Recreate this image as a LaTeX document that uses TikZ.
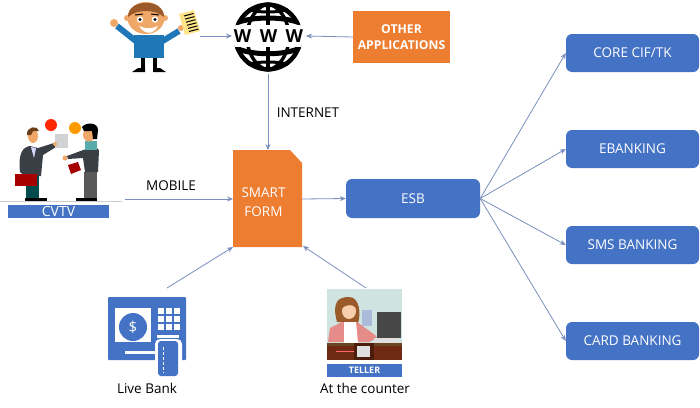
\documentclass[tikz,border=0pt]{standalone}
\usepackage{fontspec}
\setmainfont{Open Sans}
\usetikzlibrary{arrows.meta,calc}
\definecolor{bluebox}{HTML}{4472C4}
\definecolor{orangebox}{HTML}{ED7D31}
\definecolor{linkc}{HTML}{7A8FBE}
\definecolor{skin}{HTML}{F0A868}
\definecolor{shirt}{HTML}{1F77B8}
\definecolor{hairc}{HTML}{9A5A2A}
\definecolor{darksuit}{HTML}{3A3F45}
\definecolor{tellerbg}{HTML}{CFE4E0}
\definecolor{desk}{HTML}{6E2A12}
\definecolor{jacket}{HTML}{E58C88}
\tikzset{
  x=1pt,y=-1pt,
  bluerect/.style={draw=none,fill=bluebox,rounded corners=6pt,text=white,minimum width=133pt,minimum height=38pt,inner sep=0pt,font=\fontsize{13.5}{16}\selectfont},
  orangetext/.style={text=white,align=center,inner sep=0pt},
  plainlabel/.style={text=black,font=\fontsize{13.5}{16}\selectfont,inner sep=0pt},
  link/.style={draw=linkc,line width=0.8pt,-{Stealth[length=6pt,width=5pt]}},
  anchorpt/.style={inner sep=0pt,minimum size=0pt,outer sep=0pt},
  gridline/.style={black,line width=3.4pt},
}
\begin{document}
\begin{tikzpicture}
\useasboundingbox (0,0) rectangle (700,407);
\fill[white] (0,0) rectangle (700,407);

% right boxes
\node[bluerect] (core) at (632.5,53) {CORE CIF/TK};
\node[bluerect] (ebank) at (632.5,149) {EBANKING};
\node[bluerect] (sms) at (632.5,245) {SMS BANKING};
\node[bluerect] (card) at (632.5,341) {CARD BANKING};
\node[bluerect,minimum width=134pt,minimum height=39pt] (esb) at (413,198.5) {ESB};

% smart form
\fill[orangebox] (233,150) -- (290,150) -- (302,163) -- (302,247) -- (233,247) -- cycle;
\node[orangetext,font=\fontsize{13.5}{18.5}\selectfont] (form) at (263.5,202) {SMART\\FORM};
\coordinate (formL) at (233,199);
\coordinate (formR) at (302,199);
\coordinate (formT) at (268,150);
\coordinate (formBL) at (233,247);
\coordinate (formBR) at (303,246);

% other applications
\node[fill=orangebox,minimum width=97pt,minimum height=52pt,inner sep=0pt,orangetext,font=\bfseries\fontsize{12.2}{16}\selectfont] (other) at (401.5,37) {OTHER\\APPLICATIONS};

% globe
\begin{scope}
  \clip (268,37) circle (34.5);
  \fill[white] (268,37) circle (34.5);
  \draw[gridline] (268,0) -- (268,74);
  \draw[gridline] (268,3) .. controls (240,14) and (240,60) .. (268,71);
  \draw[gridline] (268,3) .. controls (296,14) and (296,60) .. (268,71);
  \draw[black,line width=5pt] (234,24) .. controls (250,16) and (286,16) .. (302,24);
  \draw[black,line width=5pt] (234,47) .. controls (250,56) and (286,56) .. (302,47);
  \draw[black,line width=3pt] (245,9) .. controls (258,13) and (278,13) .. (291,9);
  \draw[black,line width=3pt] (245,65) .. controls (258,61) and (278,61) .. (291,65);
  \fill[white] (230,24.5) rectangle (306,47);
\end{scope}
\begin{scope}
  \clip (230,0) rectangle (306,23.5) (230,47.5) rectangle (306,74);
  \draw[black,line width=4.5pt] (268,37) circle (32.3);
\end{scope}
\node[anchorpt,font=\bfseries\fontsize{18}{18}\selectfont] (www) at (268.5,36) {W\hspace{8.5pt}W\hspace{8.5pt}W};
\coordinate (wwwL) at (232,36);
\coordinate (wwwR) at (306,36);
\coordinate (wwwB) at (268,74);

% person
\fill[black] (141,58) rectangle (145,72);
\fill[black] (153,58) rectangle (157,72);
\fill[black] (132,72) -- (138,68) -- (145,68) -- (145,72) -- cycle;
\fill[black] (166,72) -- (160,68) -- (153,68) -- (153,72) -- cycle;
\draw[shirt,line width=6pt] (137,42) -- (117,26);
\draw[shirt,line width=6pt] (161,42) -- (179,31);
\fill[shirt] (134,35) rectangle (164,58);
\fill[skin] (114,23) circle (4);
\fill[skin] (181,28) circle (3);
\fill[skin] (127,18) circle (3);
\fill[skin] (165,18) circle (3);
\fill[skin] (146,18) ellipse (18.5 and 16);
\fill[hairc] (128,17) .. controls (128,-2) and (164,-2) .. (164,17) .. controls (155,9) and (137,9) .. (128,17) -- cycle;
\fill[white] (139,26) .. controls (145,35) and (153,35) .. (158,26) .. controls (152,29) and (145,29) .. (139,26) -- cycle;
\fill[white] (140,19.5) circle (3.2);
\fill[white] (155,19.5) circle (3.2);
\fill[black] (140,19.5) circle (1.7);
\fill[black] (155,19.5) circle (1.7);
\draw[black,line width=1pt] (135,15) -- (143,14);
\draw[black,line width=1pt] (151,14) -- (159,15);
\fill[yellow!60!orange!45!white] (179,14) -- (194,10) -- (200,31) -- (185,35) -- cycle;
\foreach \k in {0,1,2,3,4,5}{\draw[black,line width=1pt] ($(184,16)+\k*(1,3.1)$) -- ++(9.5,-2.5);}
\coordinate (person) at (200,36);

% CVTV figure: left man
\fill[teal!60!black] (26,175) rectangle (39,198);
\fill[black] (25,198) rectangle (47,201);
\fill[darksuit] (20,172) .. controls (18,155) and (22,147) .. (30,146) -- (38,148) -- (54,143) -- (56,147) -- (43,155) -- (41,176) -- (25,176) -- cycle;
\fill[white!85!blue] (31,147) -- (36,148) -- (34,158) -- cycle;
\fill[red!65!black] (15,174) rectangle (37,186);
\fill[skin] (33,136) ellipse (5 and 7);
\fill[hairc!70!black] (27,135) .. controls (26,126) and (38,125) .. (39,131) -- (33,131) -- (31,135) -- cycle;
% right man
\fill[gray!70!black] (84,172) rectangle (97,198);
\fill[black] (76,198) rectangle (97,201);
\fill[darksuit] (85,172) -- (83,158) -- (68,159) -- (67,156) -- (86,149) -- (94,145) -- (99,150) -- (98,172) -- cycle;
\fill[teal!65] (85,141) rectangle (97,150);
\fill[skin] (89,135) ellipse (6 and 6.5);
\fill[skin] (65,158) circle (2.5);
\fill[black] (82,127) .. controls (86,122) and (98,122) .. (98,130) -- (97,139) -- (93,139) -- (92,131) -- (84,131) -- cycle;
\fill[red!65!black] (68,165) -- (78,162) -- (81,170) -- (71,174) -- cycle;
\fill[red!70!orange] (51,125) circle (6);
\fill[orange!80!yellow] (75,128) circle (6);
\fill[gray!35] (55,134) rectangle (68,148);
\fill[skin] (55,144) circle (2);
\draw[gray!40,line width=0.6pt] (0,201) -- (122,201);
\node[fill=bluebox,minimum width=101pt,minimum height=13pt,inner sep=0pt,text=white,font=\fontsize{14}{14}\selectfont] (cvtv) at (58.5,211) {CVTV};
\coordinate (cvtvR) at (125,199);

% ATM
\fill[bluebox,rounded corners=1pt] (108,297) rectangle (186,360);
\fill[white] (115,308) rectangle (151,342);
\fill[bluebox] (133,327) circle (14);
\node[anchorpt,text=white,font=\fontsize{15}{15}\selectfont] (dollar) at (133,327) {\$};
\foreach \cx in {158,166,174}{\foreach \cy in {308,316,324}{\fill[white] (\cx,\cy) rectangle ++(6,6);}}
\fill[white] (157,335) rectangle (179,338);
\fill[white] (125,351) rectangle (158,353.5);
\fill[white,rounded corners=5pt] (155,339) rectangle (182,368);
\fill[bluebox,rounded corners=3pt] (158,341) rectangle (178,376);
\draw[white,line width=0.8pt,dash pattern=on 3pt off 2pt] (163,347) -- (163,373);
\coordinate (atm) at (167,288);
\node[plainlabel] (live) at (147,388) {Live Bank};

% teller
\fill[tellerbg] (327,289) rectangle (402,360);
\fill[blue!15!tellerbg!90!gray] (362,310) rectangle (372,326);
\fill[hairc] (337,322) .. controls (331,300) and (340,297) .. (349,297) .. controls (360,297) and (361,315) .. (358,323) -- cycle;
\fill[skin!55!white] (349,311) ellipse (7 and 8);
\fill[hairc] (341,309) .. controls (345,305) and (352,303) .. (356,308) -- (355,300) -- (342,300) -- cycle;
\fill[jacket] (328,342) -- (330,328) -- (342,322) -- (357,322) -- (364,327) -- (375,335) -- (377,338) -- (369,342) -- cycle;
\fill[white] (344,322) -- (356,322) -- (358,343) -- (344,343) -- cycle;
\fill[black!72] (377,312) rectangle (401,338);
\fill[gray!25] (374,338) rectangle (399,343);
\fill[brown!55!black] (327,343) rectangle (402,346);
\fill[desk] (327,346) rectangle (402,360);
\fill[desk!70!black] (354,343) rectangle (374,360);
\fill[gray!25] (357,346) rectangle (370,357);
\draw[red!60,line width=0.6pt] (336,351) -- (354,351);
\node[fill=bluebox,minimum width=75pt,minimum height=13pt,inner sep=0pt,text=white,font=\bfseries\fontsize{9}{9}\selectfont] (teller) at (364.5,370.5) {TELLER};
\coordinate (tellerT) at (366,288);
\node[plainlabel] (counter) at (365,388) {At the counter};

% labels
\node[plainlabel] (mobile) at (171,186) {MOBILE};
\node[plainlabel] (internet) at (308,113) {INTERNET};

% connectors
\draw[link] (person) -- (wwwL);
\draw[link] (other.west) -- (wwwR);
\draw[link] (wwwB) -- (formT);
\draw[link] (cvtvR) -- (formL);
\draw[link] (formR) -- (esb.west);
\draw[link] (atm) -- (formBL);
\draw[link] (tellerT) -- (formBR);
\draw[link] (esb.east) -- (core.west);
\draw[link] (esb.east) -- (ebank.west);
\draw[link] (esb.east) -- (sms.west);
\draw[link] (esb.east) -- (card.west);
\end{tikzpicture}
\end{document}
